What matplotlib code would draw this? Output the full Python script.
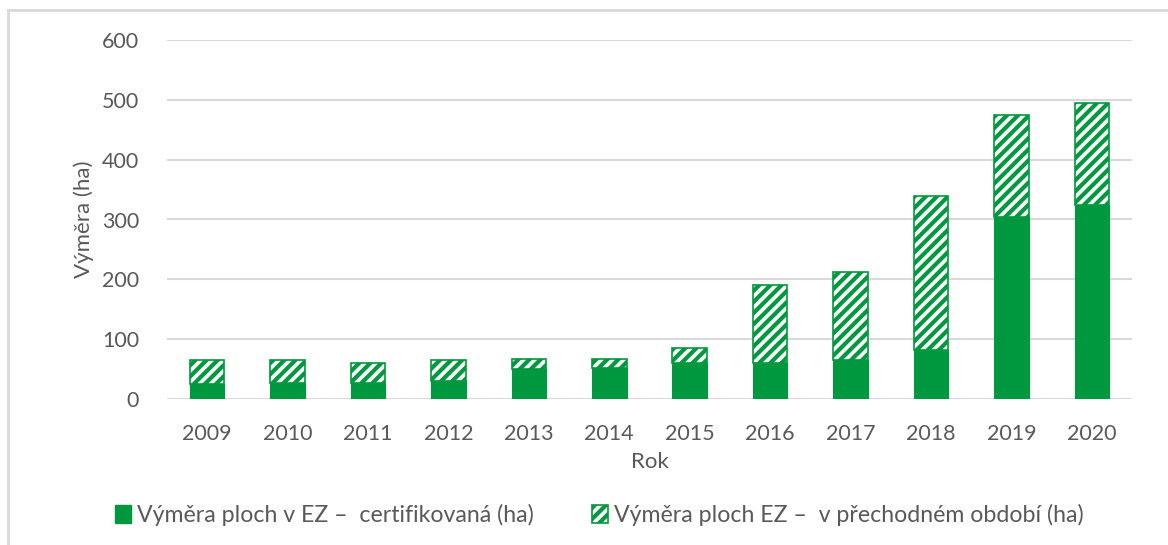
import matplotlib
matplotlib.use("Agg")
import matplotlib.pyplot as plt
from matplotlib.patches import Patch
from matplotlib.lines import Line2D
import numpy as np

years = ["2009", "2010", "2011", "2012", "2013", "2014", "2015", "2016", "2017", "2018", "2019", "2020"]
certified = [25, 27, 27, 30, 50, 52, 60, 60, 65, 82, 305, 324]
transition = [40, 38, 34, 35, 17, 15, 25, 130, 147, 258, 170, 171]
yticks = [0, 100, 200, 300, 400, 500, 600]
label_cert = "Výměra ploch v EZ –  certifikovaná (ha)"
label_trans = "Výměra ploch EZ –  v přechodném období (ha)"
xlabel = "Rok"
ylabel = "Výměra (ha)"

green = "#00983F"
txt = "#595959"
grid = "#D9D9D9"

plt.rcParams["font.family"] = ["Lato", "DejaVu Sans"]
plt.rcParams["hatch.linewidth"] = 3.0

fig = plt.figure(figsize=(11.68, 5.45), dpi=100)
ax = fig.add_axes([167/1168, 1-399/545, (1132-167)/1168, (399-40)/545])

x = np.arange(len(years))
w = 0.43
ax.bar(x, certified, width=w, color=green, edgecolor=green, linewidth=0.8, zorder=3)
ax.bar(x, transition, width=w, bottom=certified, facecolor="white", edgecolor=green,
       hatch="///", linewidth=1.2, zorder=3)

ax.set_xlim(-0.5, len(years)-0.5)
ax.set_ylim(0, 600)
ax.set_yticks(yticks)
ax.set_xticks(x)
ax.set_xticklabels(years)
ax.tick_params(length=0, labelsize=15.5, colors=txt)
ax.tick_params(axis="y", pad=20)
ax.tick_params(axis="x", pad=18)
for s in ax.spines.values():
    s.set_visible(False)
ax.grid(axis="y", color=grid, linewidth=1.5, zorder=0)
ax.set_axisbelow(True)

ax.set_xlabel(xlabel, fontsize=16, color=txt, labelpad=6)
ax.set_ylabel(ylabel, fontsize=16, color=txt, labelpad=6)

handles = [Patch(facecolor=green, edgecolor=green),
           Patch(facecolor="white", edgecolor=green, hatch="///", linewidth=1.2)]
fig.legend(handles, [label_cert, label_trans], loc="center", bbox_to_anchor=(0.513, 1-515/545),
           ncol=2, frameon=False, fontsize=16.7, labelcolor=txt, handlelength=0.7, handleheight=0.8,
           handletextpad=0.25, columnspacing=2.5)

# chart border (left and top visible)
fig.add_artist(Line2D([8/1168, 8/1168], [0, 1-10/545], color=grid, linewidth=2, transform=fig.transFigure))
fig.add_artist(Line2D([8/1168, 1], [1-10/545, 1-10/545], color=grid, linewidth=2, transform=fig.transFigure))

fig.savefig("out.png", dpi=100)
